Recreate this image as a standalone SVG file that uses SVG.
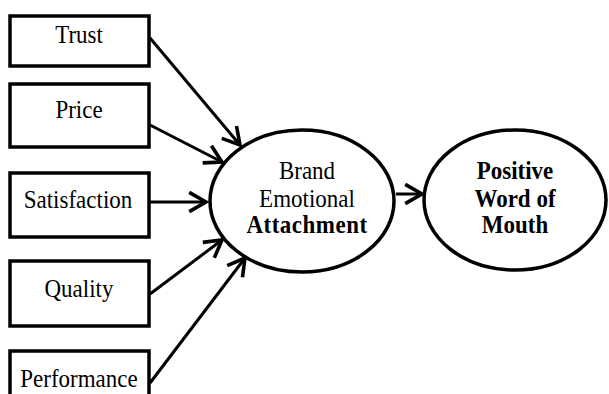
<svg xmlns="http://www.w3.org/2000/svg" width="609" height="394" viewBox="0 0 609 394">
<style>
.box{fill:#fff;stroke:#000;stroke-width:3.5}
.ell{fill:#fff;stroke:#000;stroke-width:3.5}
.lbl{font-family:'Liberation Serif','Times New Roman',serif;font-size:23px;fill:#000;text-anchor:middle}
.b{font-weight:bold}
.con{stroke:#000;stroke-width:3;fill:none;marker-end:url(#arr)}
</style>
<defs>
<marker id="arr" markerUnits="userSpaceOnUse" markerWidth="24" markerHeight="24" refX="16" refY="10" orient="auto" viewBox="0 0 20 20">
<polyline points="2,2 16,10 2,18" fill="none" stroke="#000" stroke-width="3"/>
</marker>
</defs>
<rect width="609" height="394" fill="#fff"/>
<g id="connectors">
<line class="con" x1="150" y1="38" x2="240" y2="145"/>
<line class="con" x1="150" y1="125" x2="222" y2="162"/>
<line class="con" x1="150" y1="202" x2="206" y2="202"/>
<line class="con" x1="150" y1="294" x2="222" y2="240"/>
<line class="con" x1="150" y1="383" x2="245" y2="258"/>
<line class="con" x1="396" y1="194" x2="422" y2="194"/>
</g>
<g id="trust">
<rect class="box" x="10" y="16" width="139" height="50"/>
<text class="lbl" transform="translate(79,43) scale(1,1.12)">Trust</text>
</g>
<g id="price">
<rect class="box" x="10" y="84" width="139" height="63"/>
<text class="lbl" transform="translate(79,118) scale(1,1.12)">Price</text>
</g>
<g id="satisfaction">
<rect class="box" x="10" y="173" width="139" height="64"/>
<text class="lbl" transform="translate(78,208) scale(1,1.12)">Satisfaction</text>
</g>
<g id="quality">
<rect class="box" x="10" y="261" width="139" height="65"/>
<text class="lbl" transform="translate(79,297) scale(1,1.12)">Quality</text>
</g>
<g id="performance">
<rect class="box" x="10" y="351" width="139" height="60"/>
<text class="lbl" transform="translate(79,387) scale(1,1.12)">Performance</text>
</g>
<g id="brand">
<ellipse class="ell" cx="302" cy="201" rx="92" ry="71"/>
<text class="lbl" transform="translate(307,179) scale(1,1.12)">Brand</text>
<text class="lbl" transform="translate(307,207) scale(1,1.12)">Emotional</text>
<text class="lbl b" letter-spacing="0.5" transform="translate(307,233) scale(1,1.12)">Attachment</text>
</g>
<g id="wom">
<ellipse class="ell" cx="515" cy="200" rx="91" ry="70"/>
<text class="lbl b" transform="translate(515,179) scale(1,1.12)">Positive</text>
<text class="lbl b" transform="translate(515,207) scale(1,1.12)">Word of</text>
<text class="lbl b" transform="translate(515,233) scale(1,1.12)">Mouth</text>
</g>
</svg>
